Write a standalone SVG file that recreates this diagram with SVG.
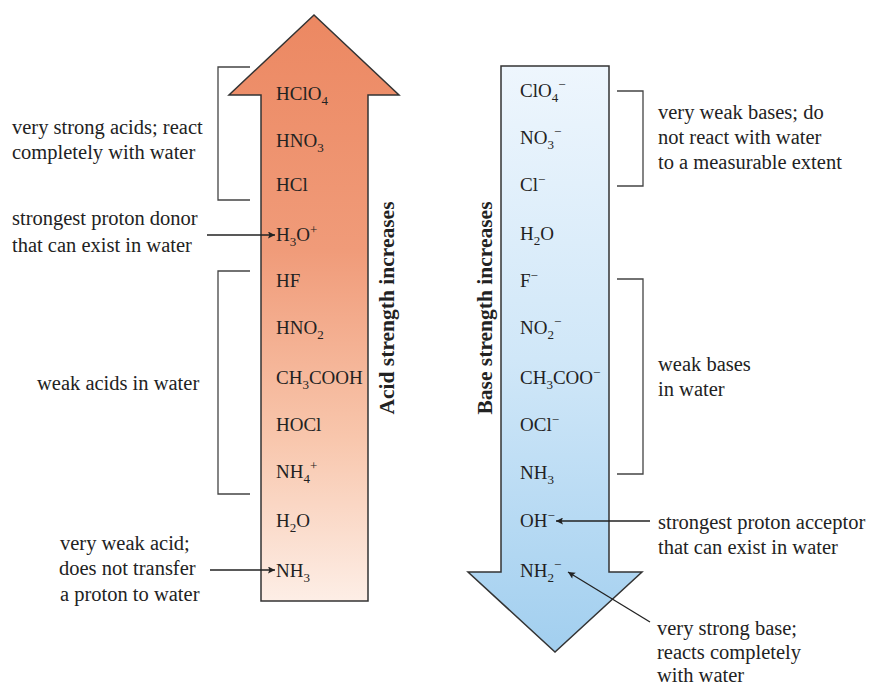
<svg xmlns="http://www.w3.org/2000/svg" width="876" height="687" viewBox="0 0 876 687">
<defs>
<linearGradient id="acidGrad" x1="0" y1="0" x2="0" y2="1">
<stop offset="0" stop-color="#ec8862"/>
<stop offset="0.4" stop-color="#f09b79"/>
<stop offset="0.72" stop-color="#f8c6ac"/>
<stop offset="1" stop-color="#fdeee6"/>
</linearGradient>
<linearGradient id="baseGrad" x1="0" y1="0" x2="0" y2="1">
<stop offset="0" stop-color="#eef6fd"/>
<stop offset="0.5" stop-color="#d0e7f8"/>
<stop offset="1" stop-color="#a2cfef"/>
</linearGradient>
<marker id="ah" viewBox="0 0 10 10" refX="10" refY="5" markerWidth="10" markerHeight="7" markerUnits="userSpaceOnUse" orient="auto">
<path d="M0,0 L10,5 L0,10 L2,5 Z" fill="#222"/>
</marker>
<style>
text{font-family:"Liberation Serif","Times New Roman",serif;fill:#222;}
.chem{font-size:19px;}
.lbl{font-size:20.5px;}
.vert{font-size:21.5px;font-weight:bold;}
.sub{font-size:13px;}
.br{fill:none;stroke:#444;stroke-width:1.3;}
.con{fill:none;stroke:#222;stroke-width:1.3;}
</style>
</defs>

<g id="acid-arrow">
<path d="M314,15 L399,95 L368,95 L368,601 L261,601 L261,95 L229,95 Z" fill="url(#acidGrad)" stroke="#333" stroke-width="1.5"/>
</g>
<g id="base-arrow">
<path d="M501,66 L609,66 L609,572 L642,572 L555,652 L468,572 L501,572 Z" fill="url(#baseGrad)" stroke="#333" stroke-width="1.5"/>
</g>

<g id="acid-list">
<text x="276" y="100" class="chem">HClO<tspan class="sub" dy="5">4</tspan></text>
<text x="276" y="147" class="chem">HNO<tspan class="sub" dy="5">3</tspan></text>
<text x="276" y="191" class="chem">HCl</text>
<text x="276" y="241" class="chem">H<tspan class="sub" dy="5">3</tspan><tspan dy="-5">O</tspan><tspan class="sub" dy="-7">+</tspan></text>
<text x="276" y="287" class="chem">HF</text>
<text x="276" y="334" class="chem">HNO<tspan class="sub" dy="5">2</tspan></text>
<text x="276" y="384" class="chem">CH<tspan class="sub" dy="5">3</tspan><tspan dy="-5">COOH</tspan></text>
<text x="276" y="431" class="chem">HOCl</text>
<text x="276" y="478" class="chem">NH<tspan class="sub" dy="5">4</tspan><tspan class="sub" dy="-13">+</tspan></text>
<text x="276" y="527" class="chem">H<tspan class="sub" dy="5">2</tspan><tspan dy="-5">O</tspan></text>
<text x="276" y="577" class="chem">NH<tspan class="sub" dy="5">3</tspan></text>
</g>

<g id="base-list">
<text x="520" y="97" class="chem">ClO<tspan class="sub" dy="5">4</tspan><tspan class="sub" dy="-13">−</tspan></text>
<text x="520" y="144" class="chem">NO<tspan class="sub" dy="5">3</tspan><tspan class="sub" dy="-13">−</tspan></text>
<text x="520" y="191" class="chem">Cl<tspan class="sub" dy="-7">−</tspan></text>
<text x="520" y="240" class="chem">H<tspan class="sub" dy="5">2</tspan><tspan dy="-5">O</tspan></text>
<text x="520" y="287" class="chem">F<tspan class="sub" dy="-7">−</tspan></text>
<text x="520" y="334" class="chem">NO<tspan class="sub" dy="5">2</tspan><tspan class="sub" dy="-13">−</tspan></text>
<text x="520" y="384" class="chem">CH<tspan class="sub" dy="5">3</tspan><tspan dy="-5">COO</tspan><tspan class="sub" dy="-7">−</tspan></text>
<text x="520" y="431" class="chem">OCl<tspan class="sub" dy="-7">−</tspan></text>
<text x="520" y="479" class="chem">NH<tspan class="sub" dy="5">3</tspan></text>
<text x="520" y="527" class="chem">OH<tspan class="sub" dy="-7">−</tspan></text>
<text x="520" y="577" class="chem">NH<tspan class="sub" dy="5">2</tspan><tspan class="sub" dy="-13">−</tspan></text>
</g>

<g id="acid-title">
<text class="vert" transform="translate(394,308) rotate(-90)" text-anchor="middle">Acid strength increases</text>
</g>
<g id="base-title">
<text class="vert" transform="translate(492,308) rotate(-90)" text-anchor="middle">Base strength increases</text>
</g>

<g id="brackets">
<path class="br" d="M250,67 L218,67 L218,200 L250,200"/>
<path class="br" d="M250,271 L218,271 L218,494 L250,494"/>
<path class="br" d="M617,91 L643,91 L643,186 L617,186"/>
<path class="br" d="M617,279 L643,279 L643,474 L617,474"/>
</g>

<g id="label-strong-acids">
<text x="12" y="134" class="lbl">very strong acids; react</text>
<text x="12" y="159" class="lbl">completely with water</text>
</g>
<g id="label-proton-donor">
<text x="12" y="225" class="lbl">strongest proton donor</text>
<text x="12" y="252" class="lbl">that can exist in water</text>
</g>
<g id="label-weak-acids">
<text x="37" y="390" class="lbl">weak acids in water</text>
</g>
<g id="label-very-weak-acid">
<text x="60" y="550" class="lbl">very weak acid;</text>
<text x="59" y="575" class="lbl">does not transfer</text>
<text x="60" y="601" class="lbl">a proton to water</text>
</g>
<g id="label-very-weak-bases">
<text x="658" y="119" class="lbl">very weak bases; do</text>
<text x="658" y="144" class="lbl">not react with water</text>
<text x="658" y="169" class="lbl">to a measurable extent</text>
</g>
<g id="label-weak-bases">
<text x="658" y="371" class="lbl">weak bases</text>
<text x="658" y="396" class="lbl">in water</text>
</g>
<g id="label-proton-acceptor">
<text x="658" y="529" class="lbl">strongest proton acceptor</text>
<text x="658" y="554" class="lbl">that can exist in water</text>
</g>
<g id="label-strong-base">
<text x="657" y="635" class="lbl">very strong base;</text>
<text x="657" y="659" class="lbl">reacts completely</text>
<text x="657" y="682" class="lbl">with water</text>
</g>

<g id="connectors">
<line class="con" x1="207" y1="235" x2="275" y2="235" marker-end="url(#ah)"/>
<line class="con" x1="210" y1="570" x2="275" y2="570" marker-end="url(#ah)"/>
<line class="con" x1="650" y1="521" x2="556" y2="521" marker-end="url(#ah)"/>
<line class="con" x1="650" y1="622" x2="568" y2="572" marker-end="url(#ah)"/>
</g>
</svg>
